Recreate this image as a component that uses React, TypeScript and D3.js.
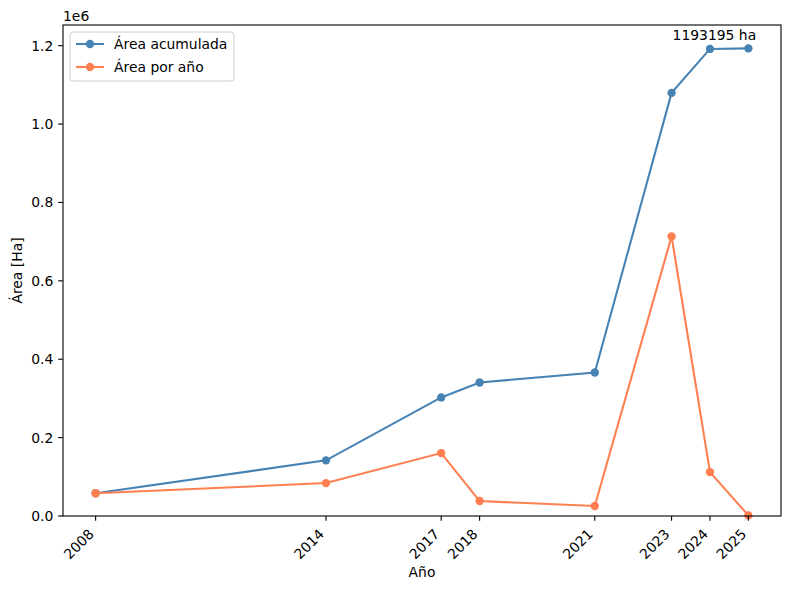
import React from "react";
import * as d3 from "d3";

const years = [2008, 2014, 2017, 2018, 2021, 2023, 2024, 2025];
const areaPorAnio = [58000, 84000, 160500, 38200, 25500, 713400, 112100, 1500];
const areaAcumulada = [58000, 142000, 302500, 340700, 366200, 1079600, 1191700, 1193195];
const yTicks = [0, 0.2, 0.4, 0.6, 0.8, 1.0, 1.2];
const seriesNames = ["Área acumulada", "Área por año"];
const seriesColors = ["#4682b4", "#ff7f50"];

const W = 790;
const H = 590;
const margin = { left: 63, right: 9, top: 25, bottom: 74 };
const FONT = "DejaVu Sans, sans-serif";
const FS = 13.9;

export default function App() {
  const x0 = margin.left;
  const x1 = W - margin.right;
  const y0 = H - margin.bottom;
  const y1 = margin.top;

  const span = d3.max(years)! - d3.min(years)!;
  const x = d3
    .scaleLinear()
    .domain([d3.min(years)! - span * 0.05, d3.max(years)! + span * 0.05])
    .range([x0, x1]);

  const all = [...areaPorAnio, ...areaAcumulada];
  const lo = d3.min(all)!;
  const hi = d3.max(all)!;
  const y = d3
    .scaleLinear()
    .domain([0, hi + (hi - lo) * 0.05])
    .range([y0, y1]);

  const line = d3
    .line<number>()
    .x((_, i) => x(years[i]))
    .y((d) => y(d));

  const series = [areaAcumulada, areaPorAnio];
  const lastIdx = years.length - 1;

  return (
    <svg width={W} height={H} style={{ position: "absolute", top: 0, left: 0 }} fontFamily={FONT}>
      <rect width={W} height={H} fill="#fff" />

      {series.map((s, si) => (
        <g key={si}>
          <path d={line(s) || ""} fill="none" stroke={seriesColors[si]} strokeWidth={2.08} />
          {s.map((v, i) => (
            <circle key={i} cx={x(years[i])} cy={y(v)} r={4.17} fill={seriesColors[si]} />
          ))}
        </g>
      ))}

      {/* spines */}
      <rect x={x0} y={y1} width={x1 - x0} height={y0 - y1} fill="none" stroke="#000" strokeWidth={1.1} />

      {/* x axis */}
      {years.map((yr) => (
        <g key={yr} transform={`translate(${x(yr)},${y0})`}>
          <line y2={4.86} stroke="#000" strokeWidth={1.1} />
          <text transform={`translate(-1,19) rotate(-45)`} textAnchor="end" fontSize={FS}>
            {yr}
          </text>
        </g>
      ))}
      <text x={(x0 + x1) / 2} y={577} textAnchor="middle" fontSize={FS}>
        Año
      </text>

      {/* y axis */}
      {yTicks.map((t) => (
        <g key={t} transform={`translate(${x0},${y(t * 1e6)})`}>
          <line x2={-4.86} stroke="#000" strokeWidth={1.1} />
          <text x={-9.7} dy="0.36em" textAnchor="end" fontSize={FS}>
            {t.toFixed(1)}
          </text>
        </g>
      ))}
      <text x={x0} y={21} fontSize={FS}>
        1e6
      </text>
      <text
        transform={`translate(22,${(y0 + y1) / 2}) rotate(-90)`}
        textAnchor="middle"
        fontSize={FS}
      >
        Área [Ha]
      </text>

      {/* annotation */}
      <text x={x(years[lastIdx]) - 34} y={40} textAnchor="middle" fontSize={FS}>
        {`${areaAcumulada[lastIdx]} ha`}
      </text>

      {/* legend */}
      <g transform={`translate(70,32)`}>
        <rect width={164} height={49} rx={3} fill="#fff" fillOpacity={0.8} stroke="#cccccc" strokeWidth={1} />
        {seriesNames.map((n, i) => (
          <g key={n} transform={`translate(0,${12 + i * 23})`}>
            <line x1={6} x2={34} stroke={seriesColors[i]} strokeWidth={2.08} />
            <circle cx={20} r={4.17} fill={seriesColors[i]} />
            <text x={44} dy="0.35em" fontSize={FS}>
              {n}
            </text>
          </g>
        ))}
      </g>
    </svg>
  );
}
